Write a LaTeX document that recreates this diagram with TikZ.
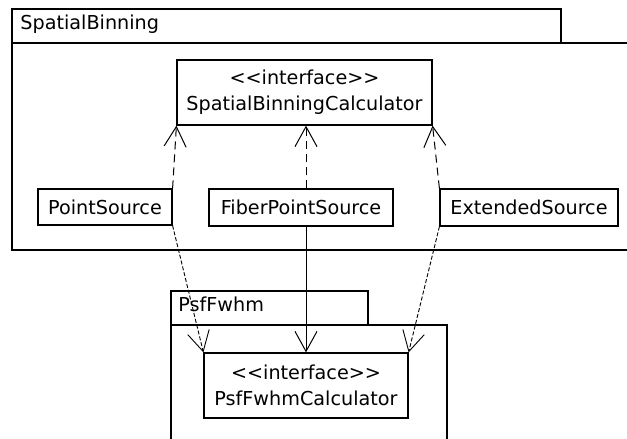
\documentclass[tikz,border=0pt]{standalone}
\usepackage{fontspec}
\setmainfont{DejaVu Sans}
\usepackage{tikz}
\usetikzlibrary{arrows.meta, positioning, calc}

\newcommand{\umlstereo}[1]{<\kern0pt<#1>\kern0pt>}

\tikzset{
  classbox/.style={draw, line width=0.6pt, align=center, inner sep=0pt,
    font=\fontsize{9.6pt}{13pt}\selectfont},
  pkgline/.style={draw, line width=0.6pt},
  pkglabel/.style={anchor=base west, inner sep=0pt,
    font=\fontsize{9.6pt}{13pt}\selectfont},
  realize/.style={line width=0.5pt, dash pattern=on 4pt off 2.5pt,
    -{Straight Barb[length=10pt, width=11pt]}},
  usesdash/.style={line width=0.45pt, dash pattern=on 2pt off 1pt,
    -{Straight Barb[length=10pt, width=11pt]}},
  usessolid/.style={line width=0.5pt,
    -{Straight Barb[length=10pt, width=11pt]}},
}

\begin{document}
\begin{tikzpicture}[x=0.5pt, y=-0.5pt]
\useasboundingbox (0,0) rectangle (627,439);
\clip (0,0) rectangle (627,439);

% Package SpatialBinning
\draw[pkgline] (12,9) rectangle (561,43);
\draw[pkgline] (12,43) rectangle (700,250);
\node[pkglabel] (sbLabel) at (20,29) {SpatialBinning};

% Package PsfFwhm
\draw[pkgline] (171,291) rectangle (368,325);
\draw[pkgline] (171,325) rectangle (447,500);
\node[pkglabel] (pfLabel) at (178,311) {PsfFwhm};

% Interfaces
\node[classbox, minimum width=127.5pt, minimum height=32.5pt] (sbCalc) at (304.5,92.5)
  {\umlstereo{interface}\\SpatialBinningCalculator};
\node[classbox, minimum width=102pt, minimum height=32.5pt] (pfCalc) at (306,385.5)
  {\umlstereo{interface}\\PsfFwhmCalculator};

% Sources
\node[classbox, minimum width=67pt, minimum height=18pt] (pointSrc) at (105,207) {PointSource};
\node[classbox, minimum width=92pt, minimum height=18.5pt] (fiberSrc) at (301,207.5) {FiberPointSource};
\node[classbox, minimum width=89pt, minimum height=18.5pt] (extSrc) at (529,207.5) {ExtendedSource};

% Realizations
\draw[realize] (pointSrc.north east) -- (sbCalc.south west);
\draw[realize] (fiberSrc.north -| pfCalc.north) -- (sbCalc.south -| pfCalc.north);
\draw[realize] (extSrc.north west) -- (sbCalc.south east);

% Uses
\draw[usesdash] (pointSrc.south east) -- (pfCalc.north west);
\draw[usessolid] (fiberSrc.south -| pfCalc.north) -- (pfCalc.north);
\draw[usesdash] (extSrc.south west) -- (pfCalc.north east);
\end{tikzpicture}
\end{document}
